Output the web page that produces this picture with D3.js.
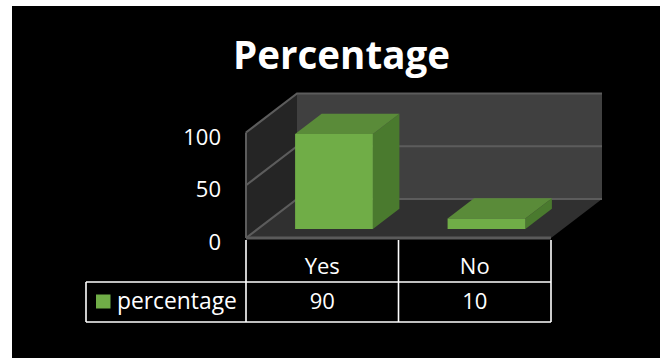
<!DOCTYPE html>
<html>
<head>
<meta charset="utf-8">
<script src="https://cdn.jsdelivr.net/npm/d3@7"></script>
<style>
  html, body { margin: 0; padding: 0; background: #ffffff; overflow: hidden; }
  svg { display: block; }
</style>
</head>
<body>
<svg id="chart" width="660" height="358"></svg>
<script>
// ---- data ----
const title = "Percentage";
const categories = ["Yes", "No"];
const seriesName = "percentage";
const values = [90, 10];
const yTicks = [0, 50, 100];

(function () {
const svg = d3.select("#chart");
const W = 660, H = 358;

svg.append("rect").attr("x", 12).attr("y", 6).attr("width", W - 12).attr("height", H - 6).attr("fill", "#000");

const origin = { x: 246, y: 238 };      // front-left floor corner
const plotW = 305;                      // front width of floor
const depth = { dx: 51, dy: -39 };      // full depth vector

const x = d3.scaleBand().domain(categories).range([0, plotW]).paddingInner(0).paddingOuter(0);
const y = d3.scaleLinear().domain([0, 100]).range([0, 105.5]);

function proj(xp, v, z) {
  return [origin.x + xp + z * depth.dx, origin.y - y(v) + z * depth.dy];
}
const line = d3.line();

const g = svg.append("g");
const yMax = y.domain()[1];

// back wall
g.append("path").attr("d", line([proj(0, 0, 1), proj(plotW, 0, 1), proj(plotW, yMax, 1), proj(0, yMax, 1)]) + "Z")
  .attr("fill", "#404040");
// left wall
g.append("path").attr("d", line([proj(0, 0, 0), proj(0, 0, 1), proj(0, yMax, 1), proj(0, yMax, 0)]) + "Z")
  .attr("fill", "#252525");
// floor
g.append("path").attr("d", line([proj(0, 0, 0), proj(plotW, 0, 0), proj(plotW, 0, 1), proj(0, 0, 1)]) + "Z")
  .attr("fill", "#303030");

const gridColor = "#5c5c5c";
yTicks.forEach(t => {
  g.append("path").attr("d", line([proj(0, t, 0), proj(0, t, 1), proj(plotW, t, 1)]))
    .attr("fill", "none").attr("stroke", gridColor).attr("stroke-width", 2.2);
});
g.append("path").attr("d", line([proj(0, 0, 0), proj(0, yMax, 0)]))
  .attr("stroke", gridColor).attr("stroke-width", 2);
g.append("path").attr("d", line([proj(0, 0, 0), proj(plotW, 0, 0)]))
  .attr("stroke", "#5a5a5a").attr("stroke-width", 3);

// bars
const barFrac = 0.51;
const z1 = 0.23, z2 = 0.75;
const cFront = "#70ad47", cTop = "#5a8b39", cSide = "#4a7a2e";
categories.forEach((c, i) => {
  const v = values[i];
  const bw = x.bandwidth() * barFrac;
  const x0 = x(c) + (x.bandwidth() - bw) / 2;
  const x1 = x0 + bw;
  const bg = g.append("g");
  bg.append("path").attr("d", line([proj(x1, 0, z1), proj(x1, 0, z2), proj(x1, v, z2), proj(x1, v, z1)]) + "Z")
    .attr("fill", cSide);
  bg.append("path").attr("d", line([proj(x0, v, z1), proj(x1, v, z1), proj(x1, v, z2), proj(x0, v, z2)]) + "Z")
    .attr("fill", cTop);
  bg.append("path").attr("d", line([proj(x0, 0, z1), proj(x1, 0, z1), proj(x1, v, z1), proj(x0, v, z1)]) + "Z")
    .attr("fill", cFront);
});

const fontFam = "'Open Sans', 'DejaVu Sans', sans-serif";
yTicks.forEach(t => {
  svg.append("text").attr("x", 221).attr("y", proj(0, t, 0)[1] + 3)
    .attr("text-anchor", "end").attr("dominant-baseline", "central")
    .attr("fill", "#fff").attr("font-family", fontFam).attr("font-size", 22)
    .text(t);
});

// title
const tt = svg.append("text").attr("x", 341.5).attr("y", 69)
  .attr("text-anchor", "middle").attr("fill", "#fff")
  .attr("font-family", fontFam).attr("font-weight", 700).attr("font-size", 38)
  .text(title);
const tw = tt.node().getComputedTextLength();
if (tw > 0) tt.attr("font-size", 38 * 217 / tw);

// data table
const tbl = svg.append("g").attr("stroke", "#fff").attr("stroke-width", 1.6).attr("fill", "none");
const colX = [origin.x, origin.x + x.bandwidth(), origin.x + plotW];
const rowTop = 240, rowMid = 282, rowBot = 322, leftX = 86;
colX.forEach(cx => tbl.append("line").attr("x1", cx).attr("x2", cx).attr("y1", rowTop).attr("y2", rowBot));
tbl.append("line").attr("x1", leftX).attr("x2", colX[2]).attr("y1", rowMid).attr("y2", rowMid);
tbl.append("line").attr("x1", leftX).attr("x2", colX[2]).attr("y1", rowBot).attr("y2", rowBot);
tbl.append("line").attr("x1", leftX).attr("x2", leftX).attr("y1", rowMid).attr("y2", rowBot);

categories.forEach((c, i) => {
  const cx = origin.x + x(c) + x.bandwidth() / 2;
  svg.append("text").attr("x", cx).attr("y", 274).attr("text-anchor", "middle")
    .attr("fill", "#fff").attr("font-family", fontFam).attr("font-size", 22).text(c);
  svg.append("text").attr("x", cx).attr("y", 309).attr("text-anchor", "middle")
    .attr("fill", "#fff").attr("font-family", fontFam).attr("font-size", 22).text(values[i]);
});
svg.append("rect").attr("x", 96).attr("y", 294.5).attr("width", 14.5).attr("height", 14).attr("fill", cFront);
const lt = svg.append("text").attr("x", 117).attr("y", 309)
  .attr("fill", "#fff").attr("font-family", fontFam).attr("font-size", 22).text(seriesName);
const lw = lt.node().getComputedTextLength();
if (lw > 0) lt.attr("font-size", 22 * 120 / lw);
})();
</script>
</body>
</html>
